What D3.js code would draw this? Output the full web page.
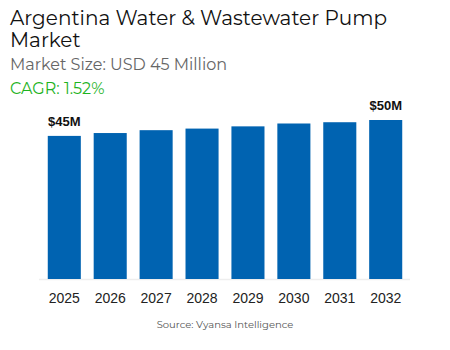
<!DOCTYPE html>
<html><head><meta charset="utf-8">
<script src="https://cdn.jsdelivr.net/npm/d3@7"></script>
<style>body{margin:0;background:#fff}</style>
</head><body>
<svg id="c" width="450" height="350"></svg>
<script>
const years = ["2025","2026","2027","2028","2029","2030","2031","2032"];
const values = [45, 45.9, 46.8, 47.3, 48.0, 48.9, 49.3, 50.0];
const valueLabels = ["$45M","","","","","","","$50M"];
const titleLines = ["Argentina Water & Wastewater Pump","Market"];
const subtitle = "Market Size: USD 45 Million";
const cagr = "CAGR: 1.52%";
const source = "Source: Vyansa Intelligence";

const svg = d3.select("#c");
const font = "Montserrat, 'Open Sans', 'Noto Sans', sans-serif";
svg.append("rect").attr("width",450).attr("height",350).attr("fill","#fff");

svg.selectAll("text.title").data(titleLines).join("text")
  .attr("x",10).attr("y",(d,i)=>25+i*22)
  .attr("font-family",font).attr("font-size",20).attr("font-weight",400).attr("fill","#111").text(d=>d);
svg.append("text").attr("x",10).attr("y",70).attr("font-family",font).attr("font-size",16).attr("fill","#666").text(subtitle);
svg.append("text").attr("x",10).attr("y",94).attr("font-family",font).attr("font-size",16).attr("fill","#1eb31e").text(cagr);

const x = d3.scaleBand().domain(years).range([39.5,410.5]).paddingInner(0.28).paddingOuter(0.18);
const y = d3.scaleLinear().domain([0,50]).range([279,120]);

svg.append("line").attr("x1",39).attr("x2",410).attr("y1",279.5).attr("y2",279.5).attr("stroke","#eeeeee").attr("stroke-width",1.5);

svg.selectAll("rect.bar").data(values).join("rect").attr("class","bar")
  .attr("x",(d,i)=>x(years[i])).attr("width",x.bandwidth())
  .attr("y",d=>y(d)).attr("height",d=>y(0)-y(d)).attr("fill","#0063b1");

svg.selectAll("text.vl").data(values).join("text")
  .attr("x",(d,i)=>x(years[i])+x.bandwidth()/2).attr("y",d=>y(d)-10)
  .attr("text-anchor","middle").attr("font-family","'Liberation Sans', Arial, sans-serif")
  .attr("font-weight","bold").attr("font-size",13).attr("fill","#111")
  .text((d,i)=>valueLabels[i]);

const xa = svg.append("g").attr("transform","translate(0,279)").call(d3.axisBottom(x).tickSize(0).tickPadding(14));
xa.select(".domain").remove();
xa.selectAll("text").attr("font-family","'Liberation Sans', Arial, sans-serif").attr("font-size",14).attr("fill","#222");

svg.append("text").attr("x",225).attr("y",328).attr("text-anchor","middle").attr("font-family",font).attr("font-size",10).attr("fill","#555").text(source);
</script>
</body></html>
